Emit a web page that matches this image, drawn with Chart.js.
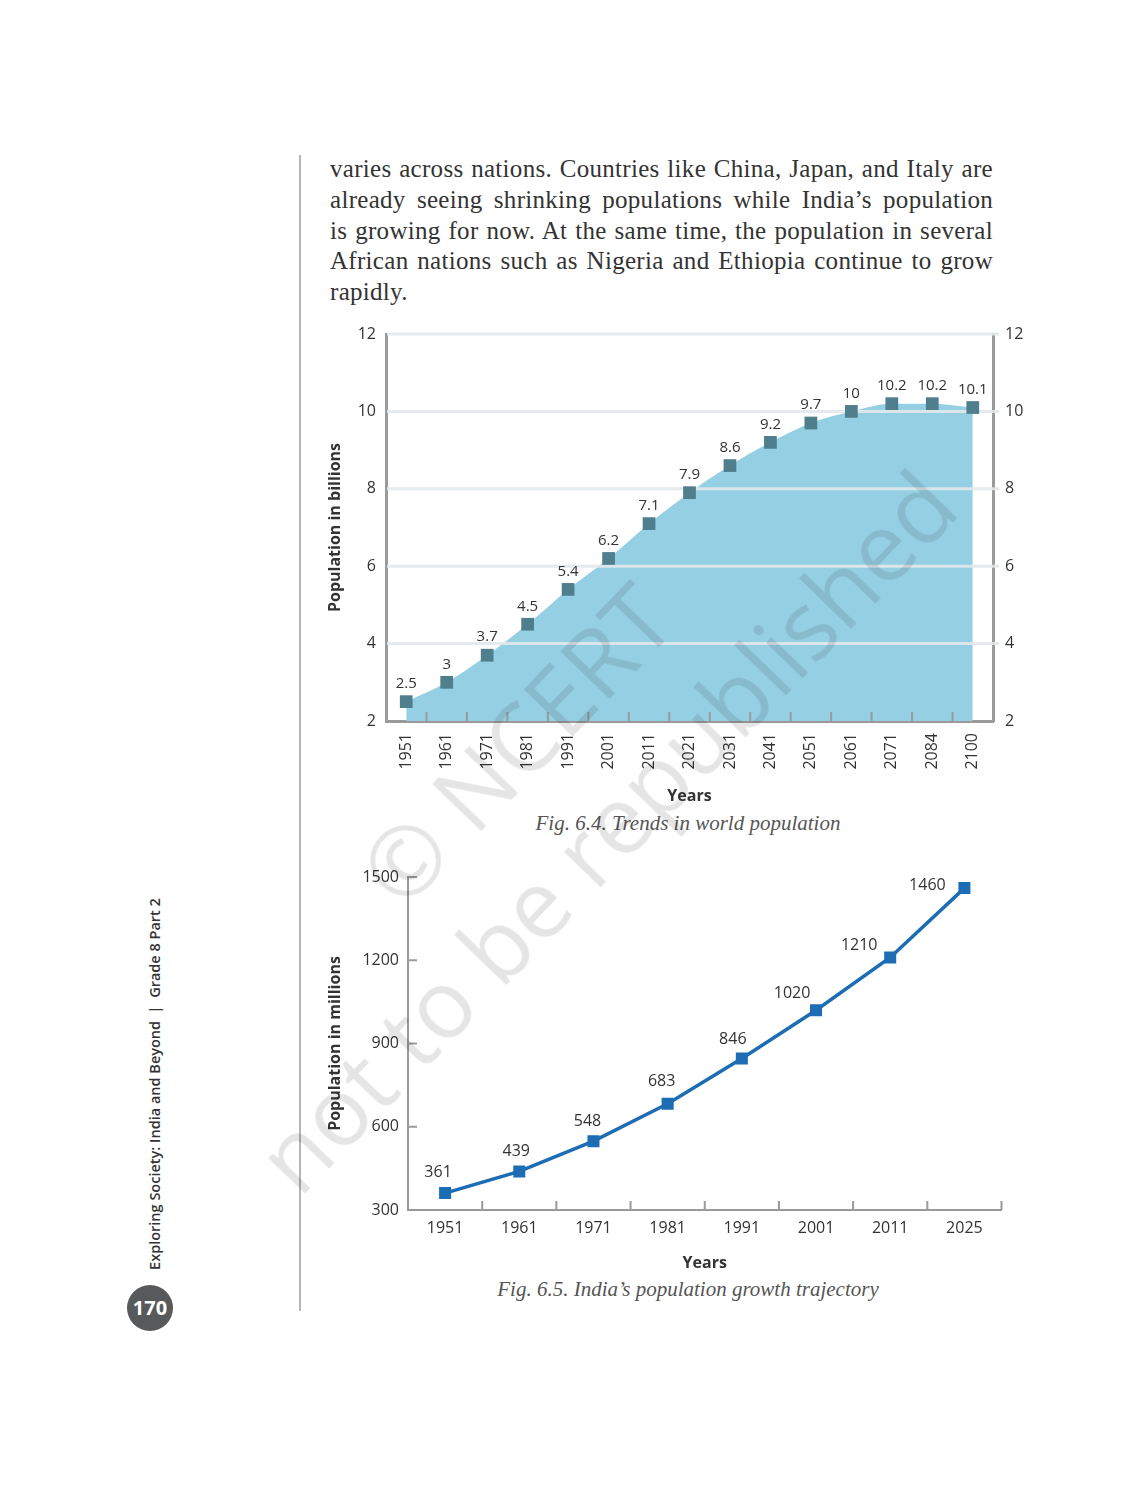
<!DOCTYPE html>
<html lang="en">
<head>
  <meta charset="UTF-8">
  <title>Trends in population</title>
  <script src="https://cdn.jsdelivr.net/npm/chart.js"></script>
  <style>
    html, body { margin: 0; padding: 0; background: #fff; }
    body { width: 1148px; height: 1493px; position: relative; overflow: hidden; font-family: "Open Sans", sans-serif; color: #333; }
    .rule { position: absolute; left: 299px; top: 155px; width: 2px; height: 1156px; background: #b5b5b5; }
    .para { position: absolute; left: 330px; top: 154px; width: 663px; font-family: "Liberation Serif", serif; font-size: 25px; letter-spacing: 0.3px; line-height: 30.8px; color: #333; }
    .para span { display: block; text-align: justify; text-align-last: justify; white-space: nowrap; }
    .para span.last { text-align-last: left; }
    .chart-box { position: absolute; }
    #box1 { left: 322px; top: 318px; width: 718px; height: 492px; }
    #box2 { left: 322px; top: 862px; width: 688px; height: 415px; }
    .caption { position: absolute; left: 388px; width: 600px; text-align: center; font-family: "Liberation Serif", serif; font-style: italic; font-size: 21px; color: #555; }
    .side { position: absolute; left: -45px; top: 1072px; width: 400px; height: 24px; line-height: 24px; text-align: center; transform: rotate(-90deg); font-size: 14.5px; font-weight: 600; color: #333; white-space: nowrap; }
    .page-no { position: absolute; left: 127px; top: 1285px; width: 46px; height: 46px; border-radius: 50%; background: #58595b; color: #fff; font-weight: 700; font-size: 20px; line-height: 46px; text-align: center; }
    .watermark { position: absolute; left: 0px; top: 662px; width: 1120px; height: 250px; line-height: 125px; text-align: center; font-size: 95px; color: rgba(0, 0, 0, 0.1); transform: rotate(-46deg); white-space: nowrap; pointer-events: none; }
  </style>
</head>

<body>
  <div class="rule"></div>

  <!-- body text above the figures -->
  <div class="para">
    <span>varies across nations. Countries like China, Japan, and Italy are</span>
    <span>already seeing shrinking populations while India’s population</span>
    <span>is growing for now. At the same time, the population in several</span>
    <span>African nations such as Nigeria and Ethiopia continue to grow</span>
    <span class="last">rapidly.</span>
  </div>

  <div class="chart-box" id="box1"><canvas id="worldChart"></canvas></div>
  <div class="caption" style="top: 811px;">Fig. 6.4. Trends in world population</div>

  <div class="chart-box" id="box2"><canvas id="indiaChart"></canvas></div>
  <div class="caption" style="top: 1277px;">Fig. 6.5. India’s population growth trajectory</div>

  <div class="side">Exploring Society: India and Beyond &nbsp;|&nbsp; Grade 8 Part 2</div>
  <div class="page-no">170</div>

  <div class="watermark">© NCERT<br>not to be republished</div>

  <script>
    // Fig 6.4 - world population (billions)
    const worldYears = ["1951", "1961", "1971", "1981", "1991", "2001", "2011", "2021", "2031", "2041", "2051", "2061", "2071", "2084", "2100"];
    const worldPopulation = [2.5, 3, 3.7, 4.5, 5.4, 6.2, 7.1, 7.9, 8.6, 9.2, 9.7, 10, 10.2, 10.2, 10.1];
    const worldTicks = [2, 4, 6, 8, 10, 12];

    // Fig 6.5 - India population (millions)
    const indiaYears = ["1951", "1961", "1971", "1981", "1991", "2001", "2011", "2025"];
    const indiaPopulation = [361, 439, 548, 683, 846, 1020, 1210, 1460];
    const indiaTicks = [300, 600, 900, 1200, 1500];
    // label nudges (dx, dy) so the numbers sit clear of the line
    const indiaLabelShift = [[-7, -21], [-3, -20], [-6, -20], [-6, -22], [-9, -19], [-24, -17], [-31, -12], [-37, -3]];

    const axisGrey = "#9a9a9a";
    const tickFont = { family: "Open Sans", size: 16 };
    // small line height on the y ticks keeps the plot top where the page has it
    const yTickFont1 = { family: "Open Sans", size: 16, lineHeight: 0.5 };
    const yTickFont2 = { family: "Open Sans", size: 16, lineHeight: 0.75 };
    const titleFont = { family: "Open Sans", size: 16, weight: "bold" };
    const plain = v => String(v); // no thousands separator

    // value labels drawn next to each point of one dataset
    function valueLabels(datasetIndex, font, shift) {
      return {
        id: "valueLabels",
        afterDatasetsDraw(chart) {
          const ctx = chart.ctx;
          const meta = chart.getDatasetMeta(datasetIndex);
          const values = chart.data.datasets[datasetIndex].data;
          ctx.save();
          ctx.font = font;
          ctx.fillStyle = "#333";
          ctx.textAlign = "center";
          ctx.textBaseline = "middle";
          meta.data.forEach((pt, i) => {
            const d = shift ? shift[i] : [0, -18];
            ctx.fillText(String(values[i]), pt.x + d[0], pt.y + d[1]);
          });
          ctx.restore();
        }
      };
    }

    // short tick marks pointing into the plot
    function innerTicks(withYTicks) {
      return {
        id: "innerTicks",
        afterDraw(chart) {
          const ctx = chart.ctx;
          const x = chart.scales.x;
          const y = chart.scales.y;
          const area = chart.chartArea;
          const n = chart.data.labels.length;
          ctx.save();
          ctx.strokeStyle = axisGrey;
          ctx.lineWidth = 2;
          ctx.beginPath();
          const last = withYTicks ? n : n - 1;
          for (let i = 1; i <= last; i++) {
            const px = i < n ? (x.getPixelForValue(i - 1) + x.getPixelForValue(i)) / 2 : area.right;
            ctx.moveTo(px, area.bottom);
            ctx.lineTo(px, area.bottom - 9);
          }
          if (withYTicks) {
            y.ticks.forEach(t => {
              const py = y.getPixelForValue(t.value);
              ctx.moveTo(area.left, py);
              ctx.lineTo(area.left + 9, py);
            });
          }
          ctx.stroke();
          ctx.restore();
        }
      };
    }

    // horizontal grid laid over the filled area but under the markers
    const gridOverArea = {
      id: "gridOverArea",
      beforeDatasetDraw(chart, args) {
        if (args.index !== 0) return;
        const ctx = chart.ctx;
        const y = chart.scales.y;
        const area = chart.chartArea;
        ctx.save();
        ctx.strokeStyle = "rgba(226, 232, 235, 0.9)";
        ctx.lineWidth = 3;
        ctx.beginPath();
        y.ticks.forEach(t => {
          if (t.value === y.min) return;
          const py = y.getPixelForValue(t.value);
          ctx.moveTo(area.left + 1, py);
          ctx.lineTo(area.right + 6, py);
        });
        ctx.stroke();
        ctx.restore();
      }
    };

    const worldChart = new Chart(document.getElementById("worldChart"), {
      type: "line",
      data: {
        labels: worldYears,
        datasets: [
          {
            // markers (drawn last)
            data: worldPopulation,
            showLine: false,
            pointStyle: "rect",
            pointRadius: 9,
            pointBackgroundColor: "#4f7e8c",
            pointBorderWidth: 0,
          },
          {
            // filled area
            data: worldPopulation,
            fill: "start",
            backgroundColor: "#95cfe3",
            borderWidth: 0,
            pointRadius: 0,
            cubicInterpolationMode: "monotone",
          },
        ],
      },
      options: {
        responsive: true,
        maintainAspectRatio: false,
        animation: false,
        layout: { padding: 0 },
        plugins: { legend: { display: false }, tooltip: { enabled: false } },
        scales: {
          x: {
            offset: true,
            z: 1,
            grid: { display: false, drawTicks: false },
            border: { color: axisGrey, width: 3 },
            ticks: { color: "#333", font: tickFont, minRotation: 90, maxRotation: 90, autoSkip: false, padding: 12 },
            title: { display: true, text: "Years", color: "#333", font: titleFont },
            afterFit: s => { s.height = 89; },
          },
          y: {
            min: worldTicks[0],
            max: worldTicks[worldTicks.length - 1],
            grid: { display: false, drawTicks: false },
            border: { color: axisGrey, width: 3 },
            ticks: { stepSize: worldTicks[1] - worldTicks[0], color: "#333", font: yTickFont1, padding: 10, callback: plain },
            title: { display: true, text: "Population in billions", color: "#333", font: titleFont },
            afterFit: s => { s.width = 64; },
          },
          y2: {
            position: "right",
            min: worldTicks[0],
            max: worldTicks[worldTicks.length - 1],
            grid: { display: false, drawTicks: false },
            border: { color: axisGrey, width: 3 },
            ticks: { stepSize: worldTicks[1] - worldTicks[0], color: "#333", font: yTickFont1, padding: 12, callback: plain },
            afterFit: s => { s.width = 47; },
          },
        },
      },
      plugins: [gridOverArea, valueLabels(0, '15px "Open Sans"'), innerTicks(false)],
    });

    const indiaChart = new Chart(document.getElementById("indiaChart"), {
      type: "line",
      data: {
        labels: indiaYears,
        datasets: [{
          data: indiaPopulation,
          borderColor: "#1c6db4",
          borderWidth: 3.5,
          tension: 0,
          pointStyle: "rect",
          pointRadius: 8.5,
          pointBackgroundColor: "#1c6db4",
          pointBorderWidth: 0,
        }],
      },
      options: {
        responsive: true,
        maintainAspectRatio: false,
        animation: false,
        layout: { padding: { top: 0, right: 6 } },
        plugins: { legend: { display: false }, tooltip: { enabled: false } },
        scales: {
          x: {
            offset: true,
            grid: { display: false, drawTicks: false },
            border: { color: axisGrey, width: 2 },
            ticks: { color: "#333", font: tickFont, maxRotation: 0, autoSkip: false, padding: 9 },
            title: { display: true, text: "Years", color: "#333", font: titleFont },
            afterFit: s => { s.height = 67; },
          },
          y: {
            min: indiaTicks[0],
            max: indiaTicks[indiaTicks.length - 1],
            grid: { display: false, drawTicks: false },
            border: { color: axisGrey, width: 2 },
            ticks: { stepSize: indiaTicks[1] - indiaTicks[0], color: "#333", font: yTickFont2, padding: 9, callback: plain },
            title: { display: true, text: "Population in millions", color: "#333", font: titleFont },
            afterFit: s => { s.width = 86; },
          },
        },
      },
      plugins: [valueLabels(0, '16px "Open Sans"', indiaLabelShift), innerTicks(true)],
    });
  </script>
</body>

</html>
